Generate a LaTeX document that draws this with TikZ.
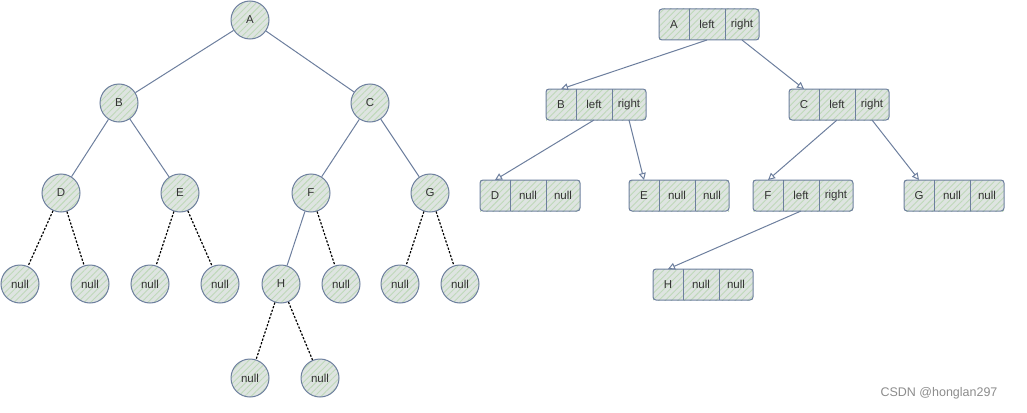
\documentclass[tikz,border=0pt]{standalone}
\usepackage{fontspec}
\setmainfont{Liberation Sans}
\usepackage{tikz}
\usetikzlibrary{arrows.meta, positioning, patterns.meta}

\definecolor{edgeblue}{HTML}{6D7F9E}
\definecolor{fillgrey}{HTML}{DEE4E1}
\definecolor{hatchgreen}{HTML}{BFD9B9}
\definecolor{textgrey}{HTML}{333333}

\tikzset{
  hatched/.style={preaction={fill=fillgrey},
    pattern={Lines[angle=45,distance=4.5pt,line width=0.9pt]}, pattern color=hatchgreen},
  treenode/.style={circle, hatched, draw=edgeblue, line width=1pt,
    minimum size=38pt, inner sep=0pt, text=textgrey, font=\fontsize{11.5}{13}\selectfont},
  cell/.style={rectangle, hatched, minimum height=31pt, inner sep=0pt, outer sep=0pt,
    text=textgrey, font=\fontsize{11.5}{13}\selectfont},
  link/.style={draw=edgeblue, line width=1pt},
  nulllink/.style={black, line width=1.2pt, dash pattern=on 2.2pt off 1.6pt},
  ptr/.style={draw=edgeblue, line width=1pt, -{Triangle[open, length=7pt, width=7pt]}}
}

% one list cell row: name, position, label, second, third
\newcommand{\listrow}[5]{%
  \node[cell, minimum width=30pt] (#1) at (#2) {#3};
  \node[cell, minimum width=36pt, right=0pt of #1] (#1l) {#4};
  \node[cell, minimum width=34pt, right=0pt of #1l] (#1r) {#5};
  \draw[edgeblue, line width=1pt, rounded corners=3pt] (#1.north west) rectangle (#1r.south east);
  \draw[edgeblue, line width=1pt] (#1.north east) -- (#1.south east);
  \draw[edgeblue, line width=1pt] (#1l.north east) -- (#1l.south east);
}

\begin{document}
\begin{tikzpicture}[x=1pt, y=-1pt]
\useasboundingbox (0,0) rectangle (1027,412);

% left tree
\node[treenode] (tA) at (250,20) {A};
\node[treenode] (tB) at (119,103) {B};
\node[treenode] (tC) at (370,103) {C};
\node[treenode] (tD) at (61,193) {D};
\node[treenode] (tE) at (180,193) {E};
\node[treenode] (tF) at (311,193) {F};
\node[treenode] (tG) at (430,193) {G};
\node[treenode] (tH) at (281,284) {H};
\node[treenode] (nD1) at (20,284) {null};
\node[treenode] (nD2) at (90,284) {null};
\node[treenode] (nE1) at (150,284) {null};
\node[treenode] (nE2) at (220,284) {null};
\node[treenode] (nF2) at (341,284) {null};
\node[treenode] (nG1) at (400,284) {null};
\node[treenode] (nG2) at (460,284) {null};
\node[treenode] (nH1) at (250,378) {null};
\node[treenode] (nH2) at (320,378) {null};

\draw[link] (tA) -- (tB);
\draw[link] (tA) -- (tC);
\draw[link] (tB) -- (tD);
\draw[link] (tB) -- (tE);
\draw[link] (tC) -- (tF);
\draw[link] (tC) -- (tG);
\draw[link] (tF) -- (tH);
\foreach \p/\c in {tD/nD1, tD/nD2, tE/nE1, tE/nE2, tF/nF2, tG/nG1, tG/nG2, tH/nH1, tH/nH2}
  \draw[nulllink] (\p) -- (\c);

% right side: linked cells
\listrow{cA}{674,24.5}{A}{left}{right}
\listrow{cB}{561,104.5}{B}{left}{right}
\listrow{cC}{804,104.5}{C}{left}{right}
\listrow{cD}{495,195.5}{D}{null}{null}
\listrow{cE}{644,195.5}{E}{null}{null}
\listrow{cF}{768,195.5}{F}{left}{right}
\listrow{cG}{919,195.5}{G}{null}{null}
\listrow{cH}{668,284.5}{H}{null}{null}

\draw[ptr] (cAl.south) -- (cB.north);
\draw[ptr] (cAr.south) -- (cC.north);
\draw[ptr] (cBl.south) -- (cD.north);
\draw[ptr] (cBr.south) -- (cE.north);
\draw[ptr] (cCl.south) -- (cF.north);
\draw[ptr] (cCr.south) -- (cG.north);
\draw[ptr] (cFl.south) -- (cH.north);

\node[text=black!45, font=\fontsize{12.5}{14}\selectfont] (mark) at (939,393) {CSDN @honglan297};
\end{tikzpicture}
\end{document}
